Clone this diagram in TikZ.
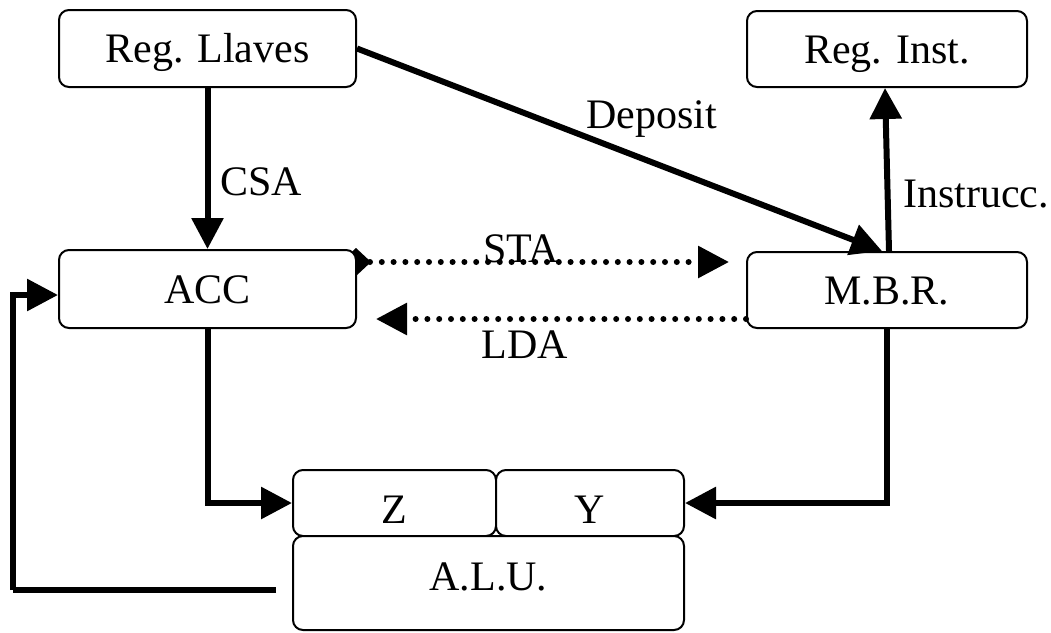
\documentclass[tikz,border=0pt]{standalone}
\usepackage{fontspec}
\setmainfont{Liberation Serif}
\usetikzlibrary{arrows.meta,backgrounds}

\begin{document}
\begin{tikzpicture}[x=1pt,y=-1pt,
  every node/.style={font=\fontsize{42pt}{50pt}\selectfont},
  regbox/.style={draw,line width=2pt,rounded corners=10pt,fill=white,
    inner sep=0pt,text height=28pt,text depth=0pt},
  conn/.style={line width=6pt,-{Triangle[length=31pt,width=31pt]}},
  feed/.style={line width=6pt},
  dotconn/.style={line width=6pt,line cap=round,dash pattern=on 0pt off 11.8pt,
    -{Triangle[length=31pt,width=31pt]}},
  lbl/.style={inner sep=0pt}
]
\useasboundingbox (0,0) rectangle (1051,632);

% registers
\node[regbox,minimum width=297pt,minimum height=77pt] (llaves) at (207.5,48.5) {Reg. Llaves};
\node[regbox,minimum width=280pt,minimum height=76pt] (inst) at (887,49) {Reg. Inst.};
\node[regbox,minimum width=297pt,minimum height=78pt] (acc) at (207.5,289) {ACC};
\node[regbox,minimum width=280pt,minimum height=76pt] (mbr) at (887,290) {M.B.R.};

% arithmetic-logic unit with its two input registers
\node[regbox,minimum width=203pt,minimum height=66pt,text height=40pt] (z) at (394.5,503) {Z};
\node[regbox,minimum width=188pt,minimum height=66pt,text height=40pt] (y) at (590,503) {Y};
\node[regbox,minimum width=391pt,minimum height=94pt,text height=14pt] (alu) at (488.5,583) {A.L.U.};

% diamond marking the store path out of the accumulator
\begin{pgfonlayer}{background}
  \fill (356,248) -- (371,262) -- (356,276) -- (341,262) -- cycle;
\end{pgfonlayer}

% solid transfers
\draw[conn] (llaves.south) -- (acc.north);
\draw[conn] (llaves.east) -- ([xshift=-5pt]mbr.north);
\draw[conn] ([xshift=2pt]mbr.north) -- ([xshift=-2pt]inst.south);
\draw[conn] (acc.south) |- (z.west);
\draw[conn] (mbr.south) |- (y.east);

% result fed back to the accumulator
\coordinate (fbk) at (13,590);
\draw[feed] ([xshift=-16pt,yshift=-7pt]alu.west) -- (fbk);
\draw[conn] (fbk) |- ([yshift=-6pt]acc.west);

% memory transfers
\draw[dotconn] (370,262) -- ([xshift=-17pt,yshift=28pt]mbr.west);
\draw[dotconn] ([yshift=-29pt]mbr.west) -- ([xshift=19pt,yshift=-30pt]acc.east);

% labels
\node[lbl,anchor=base west] (lcsa) at (220,195) {CSA};
\node[lbl,anchor=base west] (ldep) at (586,128) {Deposit};
\node[lbl,anchor=base west] (lins) at (903,207) {Instrucc.};
\node[lbl,anchor=base] (lsta) at (521,262) {STA};
\node[lbl,anchor=base] (llda) at (525,358) {LDA};
\end{tikzpicture}
\end{document}
